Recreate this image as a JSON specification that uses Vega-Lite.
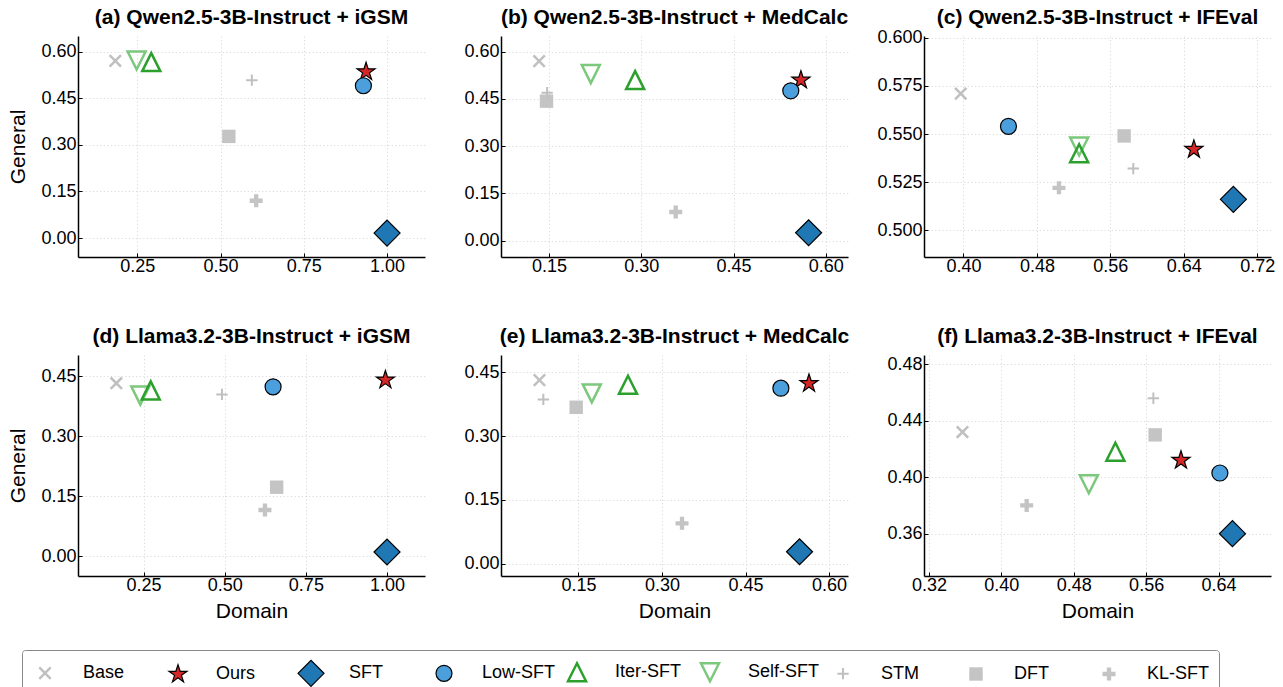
{
  "$schema": "https://vega.github.io/schema/vega-lite/v6.json",
  "padding": {"left": 7, "top": 6, "right": 0, "bottom": 0},
  "datasets": {
    "pts": [
      {"panel": "a", "method": "Base", "domain": 0.184, "general": 0.570},
      {"panel": "a", "method": "Ours", "domain": 0.937, "general": 0.535},
      {"panel": "a", "method": "SFT", "domain": 1.0, "general": 0.016},
      {"panel": "a", "method": "Low-SFT", "domain": 0.929, "general": 0.490},
      {"panel": "a", "method": "Self-SFT", "domain": 0.248, "general": 0.571},
      {"panel": "a", "method": "Iter-SFT", "domain": 0.292, "general": 0.566},
      {"panel": "a", "method": "STM", "domain": 0.594, "general": 0.508},
      {"panel": "a", "method": "DFT", "domain": 0.525, "general": 0.327},
      {"panel": "a", "method": "KL-SFT", "domain": 0.607, "general": 0.120},

      {"panel": "b", "method": "Base", "domain": 0.134, "general": 0.570},
      {"panel": "b", "method": "Ours", "domain": 0.5595, "general": 0.510},
      {"panel": "b", "method": "SFT", "domain": 0.572, "general": 0.025},
      {"panel": "b", "method": "Low-SFT", "domain": 0.543, "general": 0.476},
      {"panel": "b", "method": "Self-SFT", "domain": 0.218, "general": 0.529},
      {"panel": "b", "method": "Iter-SFT", "domain": 0.290, "general": 0.510},
      {"panel": "b", "method": "DFT", "domain": 0.146, "general": 0.443},
      {"panel": "b", "method": "STM", "domain": 0.147, "general": 0.470},
      {"panel": "b", "method": "KL-SFT", "domain": 0.356, "general": 0.091},

      {"panel": "c", "method": "Base", "domain": 0.397, "general": 0.571},
      {"panel": "c", "method": "Ours", "domain": 0.651, "general": 0.542},
      {"panel": "c", "method": "SFT", "domain": 0.694, "general": 0.516},
      {"panel": "c", "method": "Low-SFT", "domain": 0.449, "general": 0.554},
      {"panel": "c", "method": "Self-SFT", "domain": 0.526, "general": 0.5435},
      {"panel": "c", "method": "Iter-SFT", "domain": 0.526, "general": 0.540},
      {"panel": "c", "method": "STM", "domain": 0.585, "general": 0.532},
      {"panel": "c", "method": "DFT", "domain": 0.575, "general": 0.549},
      {"panel": "c", "method": "KL-SFT", "domain": 0.504, "general": 0.522},

      {"panel": "d", "method": "Base", "domain": 0.166, "general": 0.432},
      {"panel": "d", "method": "Ours", "domain": 0.995, "general": 0.440},
      {"panel": "d", "method": "SFT", "domain": 1.0, "general": 0.010},
      {"panel": "d", "method": "Low-SFT", "domain": 0.649, "general": 0.423},
      {"panel": "d", "method": "Self-SFT", "domain": 0.240, "general": 0.401},
      {"panel": "d", "method": "Iter-SFT", "domain": 0.272, "general": 0.414},
      {"panel": "d", "method": "STM", "domain": 0.4915, "general": 0.404},
      {"panel": "d", "method": "DFT", "domain": 0.660, "general": 0.172},
      {"panel": "d", "method": "KL-SFT", "domain": 0.624, "general": 0.115},

      {"panel": "e", "method": "Base", "domain": 0.080, "general": 0.432},
      {"panel": "e", "method": "Ours", "domain": 0.564, "general": 0.424},
      {"panel": "e", "method": "SFT", "domain": 0.547, "general": 0.028},
      {"panel": "e", "method": "Low-SFT", "domain": 0.5135, "general": 0.413},
      {"panel": "e", "method": "Self-SFT", "domain": 0.174, "general": 0.4006},
      {"panel": "e", "method": "Iter-SFT", "domain": 0.239, "general": 0.421},
      {"panel": "e", "method": "STM", "domain": 0.087, "general": 0.3865},
      {"panel": "e", "method": "DFT", "domain": 0.146, "general": 0.368},
      {"panel": "e", "method": "KL-SFT", "domain": 0.336, "general": 0.095},

      {"panel": "f", "method": "Base", "domain": 0.357, "general": 0.432},
      {"panel": "f", "method": "Ours", "domain": 0.5985, "general": 0.412},
      {"panel": "f", "method": "SFT", "domain": 0.6554, "general": 0.360},
      {"panel": "f", "method": "Low-SFT", "domain": 0.6415, "general": 0.403},
      {"panel": "f", "method": "Self-SFT", "domain": 0.4967, "general": 0.395},
      {"panel": "f", "method": "Iter-SFT", "domain": 0.526, "general": 0.418},
      {"panel": "f", "method": "STM", "domain": 0.568, "general": 0.456},
      {"panel": "f", "method": "DFT", "domain": 0.570, "general": 0.430},
      {"panel": "f", "method": "KL-SFT", "domain": 0.428, "general": 0.380}
    ]
  },
  "data": {"name": "pts"},
  "columns": 3,
  "spacing": {"row": 98, "column": 76},
  "bounds": "flush",
  "concat": [
    {
      "title": "(a) Qwen2.5-3B-Instruct + iGSM",
      "width": 347, "height": 221,
      "transform": [{"filter": "datum.panel == 'a'"}],
      "mark": {"type": "point", "opacity": 1},
      "encoding": {
        "x": {"field": "domain", "type": "quantitative", "scale": {"domain": [0.072, 1.114], "nice": false, "zero": false}, "axis": {"values": [0.25, 0.5, 0.75, 1.0], "format": ".2f", "title": null}},
        "y": {"field": "general", "type": "quantitative", "scale": {"domain": [-0.061, 0.65], "nice": false, "zero": false}, "axis": {"values": [0, 0.15, 0.3, 0.45, 0.6], "format": ".2f", "title": "General"}},
        "shape": {"field": "method", "type": "nominal", "scale": {"domain": ["Base","Ours","SFT","Low-SFT","Iter-SFT","Self-SFT","STM","DFT","KL-SFT"], "range": ["M-1,-1L1,1M-1,1L1,-1", "M0,-1L0.2245,-0.309L0.9511,-0.309L0.3633,0.118L0.5878,0.809L0,0.382L-0.5878,0.809L-0.3633,0.118L-0.9511,-0.309L-0.2245,-0.309Z", "diamond", "circle", "M0,-1L-1,1L1,1Z", "M0,1L-1,-1L1,-1Z", "M-1,0L1,0M0,-1L0,1", "square", "M-0.333,-1L0.333,-1L0.333,-0.333L1,-0.333L1,0.333L0.333,0.333L0.333,1L-0.333,1L-0.333,0.333L-1,0.333L-1,-0.333L-0.333,-0.333Z"]}, "legend": {"title": null, "orient": "none", "legendX": -56, "legendY": 614, "direction": "horizontal", "columns": 9, "gridAlign": "all", "columnPadding": 5, "labelOffset": 24, "padding": 9, "strokeColor": "#888888", "cornerRadius": 3}},
        "fill": {"field": "method", "type": "nominal", "scale": {"domain": ["Base","Ours","SFT","Low-SFT","Iter-SFT","Self-SFT","STM","DFT","KL-SFT"], "range": ["transparent","#d62728","#1f77b4","#4a9fdc","transparent","transparent","transparent","#c4c4c4","#c4c4c4"]}},
        "stroke": {"field": "method", "type": "nominal", "scale": {"domain": ["Base","Ours","SFT","Low-SFT","Iter-SFT","Self-SFT","STM","DFT","KL-SFT"], "range": ["#c0c0c0","#000000","#000000","#000000","#2ca02c","#7cc87c","#c0c0c0","transparent","transparent"]}},
        "size": {"field": "method", "type": "nominal", "scale": {"type": "ordinal", "domain": ["Base","Ours","SFT","Low-SFT","Iter-SFT","Self-SFT","STM","DFT","KL-SFT"], "range": [130,360,676,256,324,324,130,180,169]}},
        "strokeWidth": {"field": "method", "type": "nominal", "scale": {"type": "ordinal", "domain": ["Base","Ours","SFT","Low-SFT","Iter-SFT","Self-SFT","STM","DFT","KL-SFT"], "range": [2.5,1.2,1.2,1.2,2.5,2.5,2,0,0]}}
      }
    },
    {
      "title": "(b) Qwen2.5-3B-Instruct + MedCalc",
      "width": 347, "height": 221,
      "transform": [{"filter": "datum.panel == 'b'"}],
      "mark": {"type": "point", "opacity": 1},
      "encoding": {
        "x": {"field": "domain", "type": "quantitative", "scale": {"domain": [0.072, 0.636], "nice": false, "zero": false}, "axis": {"values": [0.15, 0.3, 0.45, 0.6], "format": ".2f", "title": null}},
        "y": {"field": "general", "type": "quantitative", "scale": {"domain": [-0.052, 0.65], "nice": false, "zero": false}, "axis": {"values": [0, 0.15, 0.3, 0.45, 0.6], "format": ".2f", "title": null}},
        "shape": {"field": "method", "type": "nominal", "scale": {"domain": ["Base","Ours","SFT","Low-SFT","Iter-SFT","Self-SFT","STM","DFT","KL-SFT"], "range": ["M-1,-1L1,1M-1,1L1,-1", "M0,-1L0.2245,-0.309L0.9511,-0.309L0.3633,0.118L0.5878,0.809L0,0.382L-0.5878,0.809L-0.3633,0.118L-0.9511,-0.309L-0.2245,-0.309Z", "diamond", "circle", "M0,-1L-1,1L1,1Z", "M0,1L-1,-1L1,-1Z", "M-1,0L1,0M0,-1L0,1", "square", "M-0.333,-1L0.333,-1L0.333,-0.333L1,-0.333L1,0.333L0.333,0.333L0.333,1L-0.333,1L-0.333,0.333L-1,0.333L-1,-0.333L-0.333,-0.333Z"]}},
        "fill": {"field": "method", "type": "nominal", "scale": {"domain": ["Base","Ours","SFT","Low-SFT","Iter-SFT","Self-SFT","STM","DFT","KL-SFT"], "range": ["transparent","#d62728","#1f77b4","#4a9fdc","transparent","transparent","transparent","#c4c4c4","#c4c4c4"]}},
        "stroke": {"field": "method", "type": "nominal", "scale": {"domain": ["Base","Ours","SFT","Low-SFT","Iter-SFT","Self-SFT","STM","DFT","KL-SFT"], "range": ["#c0c0c0","#000000","#000000","#000000","#2ca02c","#7cc87c","#c0c0c0","transparent","transparent"]}},
        "size": {"field": "method", "type": "nominal", "scale": {"type": "ordinal", "domain": ["Base","Ours","SFT","Low-SFT","Iter-SFT","Self-SFT","STM","DFT","KL-SFT"], "range": [130,360,676,256,324,324,130,180,169]}},
        "strokeWidth": {"field": "method", "type": "nominal", "scale": {"type": "ordinal", "domain": ["Base","Ours","SFT","Low-SFT","Iter-SFT","Self-SFT","STM","DFT","KL-SFT"], "range": [2.5,1.2,1.2,1.2,2.5,2.5,2,0,0]}}
      }
    },
    {
      "title": {"text": "(c) Qwen2.5-3B-Instruct + IFEval", "offset": 1},
      "width": 347, "height": 221,
      "transform": [{"filter": "datum.panel == 'c'"}],
      "mark": {"type": "point", "opacity": 1},
      "encoding": {
        "x": {"field": "domain", "type": "quantitative", "scale": {"domain": [0.357, 0.735], "nice": false, "zero": false}, "axis": {"values": [0.40, 0.48, 0.56, 0.64, 0.72], "format": ".2f", "title": null}},
        "y": {"field": "general", "type": "quantitative", "scale": {"domain": [0.486, 0.601], "nice": false, "zero": false}, "axis": {"values": [0.5, 0.525, 0.55, 0.575, 0.6], "format": ".3f", "title": null}},
        "shape": {"field": "method", "type": "nominal", "scale": {"domain": ["Base","Ours","SFT","Low-SFT","Iter-SFT","Self-SFT","STM","DFT","KL-SFT"], "range": ["M-1,-1L1,1M-1,1L1,-1", "M0,-1L0.2245,-0.309L0.9511,-0.309L0.3633,0.118L0.5878,0.809L0,0.382L-0.5878,0.809L-0.3633,0.118L-0.9511,-0.309L-0.2245,-0.309Z", "diamond", "circle", "M0,-1L-1,1L1,1Z", "M0,1L-1,-1L1,-1Z", "M-1,0L1,0M0,-1L0,1", "square", "M-0.333,-1L0.333,-1L0.333,-0.333L1,-0.333L1,0.333L0.333,0.333L0.333,1L-0.333,1L-0.333,0.333L-1,0.333L-1,-0.333L-0.333,-0.333Z"]}},
        "fill": {"field": "method", "type": "nominal", "scale": {"domain": ["Base","Ours","SFT","Low-SFT","Iter-SFT","Self-SFT","STM","DFT","KL-SFT"], "range": ["transparent","#d62728","#1f77b4","#4a9fdc","transparent","transparent","transparent","#c4c4c4","#c4c4c4"]}},
        "stroke": {"field": "method", "type": "nominal", "scale": {"domain": ["Base","Ours","SFT","Low-SFT","Iter-SFT","Self-SFT","STM","DFT","KL-SFT"], "range": ["#c0c0c0","#000000","#000000","#000000","#2ca02c","#7cc87c","#c0c0c0","transparent","transparent"]}},
        "size": {"field": "method", "type": "nominal", "scale": {"type": "ordinal", "domain": ["Base","Ours","SFT","Low-SFT","Iter-SFT","Self-SFT","STM","DFT","KL-SFT"], "range": [130,360,676,256,324,324,130,180,169]}},
        "strokeWidth": {"field": "method", "type": "nominal", "scale": {"type": "ordinal", "domain": ["Base","Ours","SFT","Low-SFT","Iter-SFT","Self-SFT","STM","DFT","KL-SFT"], "range": [2.5,1.2,1.2,1.2,2.5,2.5,2,0,0]}}
      }
    },
    {
      "title": "(d) Llama3.2-3B-Instruct + iGSM",
      "width": 347, "height": 221,
      "transform": [{"filter": "datum.panel == 'd'"}],
      "mark": {"type": "point", "opacity": 1},
      "encoding": {
        "x": {"field": "domain", "type": "quantitative", "scale": {"domain": [0.048, 1.117], "nice": false, "zero": false}, "axis": {"values": [0.25, 0.5, 0.75, 1.0], "format": ".2f", "title": "Domain"}},
        "y": {"field": "general", "type": "quantitative", "scale": {"domain": [-0.05, 0.5025], "nice": false, "zero": false}, "axis": {"values": [0, 0.15, 0.3, 0.45], "format": ".2f", "title": "General"}},
        "shape": {"field": "method", "type": "nominal", "scale": {"domain": ["Base","Ours","SFT","Low-SFT","Iter-SFT","Self-SFT","STM","DFT","KL-SFT"], "range": ["M-1,-1L1,1M-1,1L1,-1", "M0,-1L0.2245,-0.309L0.9511,-0.309L0.3633,0.118L0.5878,0.809L0,0.382L-0.5878,0.809L-0.3633,0.118L-0.9511,-0.309L-0.2245,-0.309Z", "diamond", "circle", "M0,-1L-1,1L1,1Z", "M0,1L-1,-1L1,-1Z", "M-1,0L1,0M0,-1L0,1", "square", "M-0.333,-1L0.333,-1L0.333,-0.333L1,-0.333L1,0.333L0.333,0.333L0.333,1L-0.333,1L-0.333,0.333L-1,0.333L-1,-0.333L-0.333,-0.333Z"]}},
        "fill": {"field": "method", "type": "nominal", "scale": {"domain": ["Base","Ours","SFT","Low-SFT","Iter-SFT","Self-SFT","STM","DFT","KL-SFT"], "range": ["transparent","#d62728","#1f77b4","#4a9fdc","transparent","transparent","transparent","#c4c4c4","#c4c4c4"]}},
        "stroke": {"field": "method", "type": "nominal", "scale": {"domain": ["Base","Ours","SFT","Low-SFT","Iter-SFT","Self-SFT","STM","DFT","KL-SFT"], "range": ["#c0c0c0","#000000","#000000","#000000","#2ca02c","#7cc87c","#c0c0c0","transparent","transparent"]}},
        "size": {"field": "method", "type": "nominal", "scale": {"type": "ordinal", "domain": ["Base","Ours","SFT","Low-SFT","Iter-SFT","Self-SFT","STM","DFT","KL-SFT"], "range": [130,360,676,256,324,324,130,180,169]}},
        "strokeWidth": {"field": "method", "type": "nominal", "scale": {"type": "ordinal", "domain": ["Base","Ours","SFT","Low-SFT","Iter-SFT","Self-SFT","STM","DFT","KL-SFT"], "range": [2.5,1.2,1.2,1.2,2.5,2.5,2,0,0]}}
      }
    },
    {
      "title": "(e) Llama3.2-3B-Instruct + MedCalc",
      "width": 347, "height": 221,
      "transform": [{"filter": "datum.panel == 'e'"}],
      "mark": {"type": "point", "opacity": 1},
      "encoding": {
        "x": {"field": "domain", "type": "quantitative", "scale": {"domain": [0.011, 0.634], "nice": false, "zero": false}, "axis": {"values": [0.15, 0.3, 0.45, 0.6], "format": ".2f", "title": "Domain"}},
        "y": {"field": "general", "type": "quantitative", "scale": {"domain": [-0.029, 0.491], "nice": false, "zero": false}, "axis": {"values": [0, 0.15, 0.3, 0.45], "format": ".2f", "title": null}},
        "shape": {"field": "method", "type": "nominal", "scale": {"domain": ["Base","Ours","SFT","Low-SFT","Iter-SFT","Self-SFT","STM","DFT","KL-SFT"], "range": ["M-1,-1L1,1M-1,1L1,-1", "M0,-1L0.2245,-0.309L0.9511,-0.309L0.3633,0.118L0.5878,0.809L0,0.382L-0.5878,0.809L-0.3633,0.118L-0.9511,-0.309L-0.2245,-0.309Z", "diamond", "circle", "M0,-1L-1,1L1,1Z", "M0,1L-1,-1L1,-1Z", "M-1,0L1,0M0,-1L0,1", "square", "M-0.333,-1L0.333,-1L0.333,-0.333L1,-0.333L1,0.333L0.333,0.333L0.333,1L-0.333,1L-0.333,0.333L-1,0.333L-1,-0.333L-0.333,-0.333Z"]}},
        "fill": {"field": "method", "type": "nominal", "scale": {"domain": ["Base","Ours","SFT","Low-SFT","Iter-SFT","Self-SFT","STM","DFT","KL-SFT"], "range": ["transparent","#d62728","#1f77b4","#4a9fdc","transparent","transparent","transparent","#c4c4c4","#c4c4c4"]}},
        "stroke": {"field": "method", "type": "nominal", "scale": {"domain": ["Base","Ours","SFT","Low-SFT","Iter-SFT","Self-SFT","STM","DFT","KL-SFT"], "range": ["#c0c0c0","#000000","#000000","#000000","#2ca02c","#7cc87c","#c0c0c0","transparent","transparent"]}},
        "size": {"field": "method", "type": "nominal", "scale": {"type": "ordinal", "domain": ["Base","Ours","SFT","Low-SFT","Iter-SFT","Self-SFT","STM","DFT","KL-SFT"], "range": [130,360,676,256,324,324,130,180,169]}},
        "strokeWidth": {"field": "method", "type": "nominal", "scale": {"type": "ordinal", "domain": ["Base","Ours","SFT","Low-SFT","Iter-SFT","Self-SFT","STM","DFT","KL-SFT"], "range": [2.5,1.2,1.2,1.2,2.5,2.5,2,0,0]}}
      }
    },
    {
      "title": "(f) Llama3.2-3B-Instruct + IFEval",
      "width": 347, "height": 221,
      "transform": [{"filter": "datum.panel == 'f'"}],
      "mark": {"type": "point", "opacity": 1},
      "encoding": {
        "x": {"field": "domain", "type": "quantitative", "scale": {"domain": [0.3145, 0.698], "nice": false, "zero": false}, "axis": {"values": [0.32, 0.40, 0.48, 0.56, 0.64], "format": ".2f", "title": "Domain"}},
        "y": {"field": "general", "type": "quantitative", "scale": {"domain": [0.33, 0.4866], "nice": false, "zero": false}, "axis": {"values": [0.36, 0.40, 0.44, 0.48], "format": ".2f", "title": null}},
        "shape": {"field": "method", "type": "nominal", "scale": {"domain": ["Base","Ours","SFT","Low-SFT","Iter-SFT","Self-SFT","STM","DFT","KL-SFT"], "range": ["M-1,-1L1,1M-1,1L1,-1", "M0,-1L0.2245,-0.309L0.9511,-0.309L0.3633,0.118L0.5878,0.809L0,0.382L-0.5878,0.809L-0.3633,0.118L-0.9511,-0.309L-0.2245,-0.309Z", "diamond", "circle", "M0,-1L-1,1L1,1Z", "M0,1L-1,-1L1,-1Z", "M-1,0L1,0M0,-1L0,1", "square", "M-0.333,-1L0.333,-1L0.333,-0.333L1,-0.333L1,0.333L0.333,0.333L0.333,1L-0.333,1L-0.333,0.333L-1,0.333L-1,-0.333L-0.333,-0.333Z"]}},
        "fill": {"field": "method", "type": "nominal", "scale": {"domain": ["Base","Ours","SFT","Low-SFT","Iter-SFT","Self-SFT","STM","DFT","KL-SFT"], "range": ["transparent","#d62728","#1f77b4","#4a9fdc","transparent","transparent","transparent","#c4c4c4","#c4c4c4"]}},
        "stroke": {"field": "method", "type": "nominal", "scale": {"domain": ["Base","Ours","SFT","Low-SFT","Iter-SFT","Self-SFT","STM","DFT","KL-SFT"], "range": ["#c0c0c0","#000000","#000000","#000000","#2ca02c","#7cc87c","#c0c0c0","transparent","transparent"]}},
        "size": {"field": "method", "type": "nominal", "scale": {"type": "ordinal", "domain": ["Base","Ours","SFT","Low-SFT","Iter-SFT","Self-SFT","STM","DFT","KL-SFT"], "range": [130,360,676,256,324,324,130,180,169]}},
        "strokeWidth": {"field": "method", "type": "nominal", "scale": {"type": "ordinal", "domain": ["Base","Ours","SFT","Low-SFT","Iter-SFT","Self-SFT","STM","DFT","KL-SFT"], "range": [2.5,1.2,1.2,1.2,2.5,2.5,2,0,0]}}
      }
    }
  ],
  "config": {
    "font": "Liberation Sans",
    "view": {"stroke": null},
    "axis": {
      "domainColor": "#000000", "domainWidth": 1.5,
      "tickColor": "#000000", "tickSize": -4, "tickWidth": 1,
      "labelFontSize": 18, "labelColor": "#000000", "labelPadding": 4, "labelFlush": false,
      "titleFontSize": 21, "titleFontWeight": "normal", "titleColor": "#000000", "titlePadding": 6,
      "gridColor": "#d0d0d0", "gridDash": [1.2, 2.4], "gridWidth": 0.8
    },
    "axisY": {"labelPadding": 6, "titlePadding": 12},
    "title": {"fontSize": 21, "fontWeight": "bold", "color": "#000000", "frame": "group", "anchor": "middle", "baseline": "alphabetic", "offset": 8.5},
    "legend": {"labelFontSize": 18, "labelColor": "#000000", "labelFont": "Liberation Sans"}
  }
}
